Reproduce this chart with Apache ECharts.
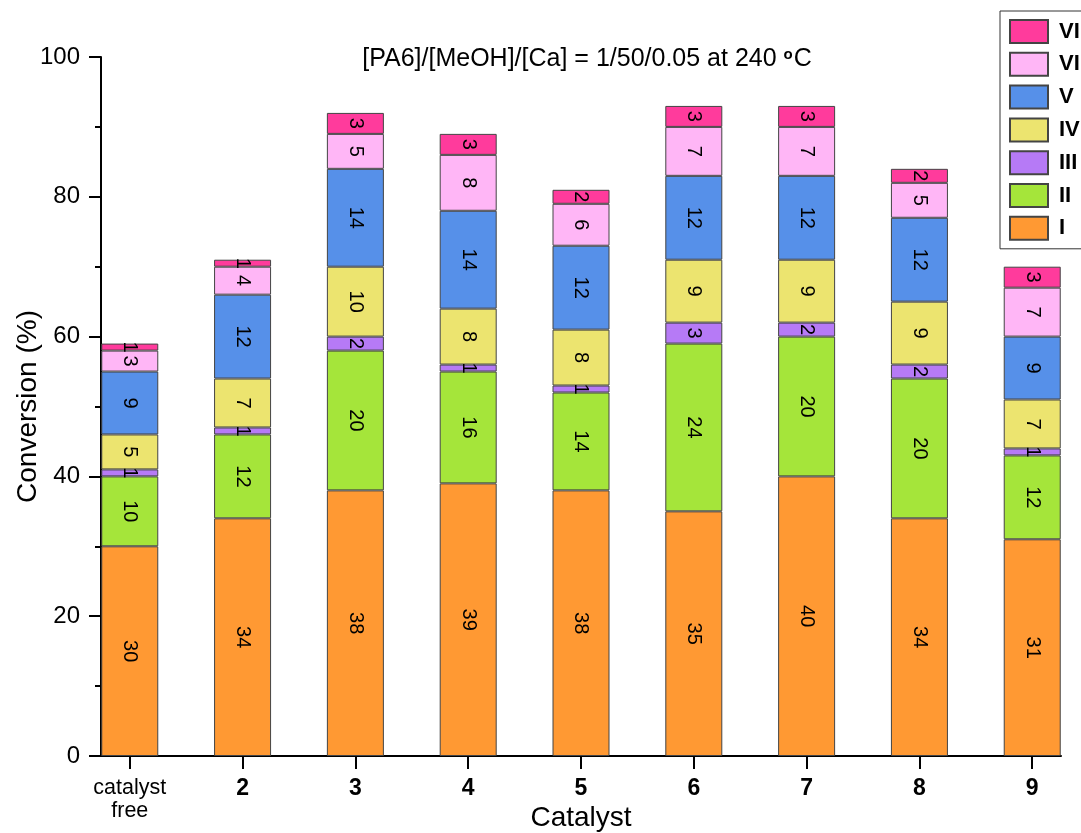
<!DOCTYPE html>
<html>
<head>
<meta charset="utf-8">
<script src="https://cdn.jsdelivr.net/npm/echarts@6/dist/echarts.min.js"></script>
<style>
html,body{margin:0;padding:0;background:#fff;}
#chart{width:1081px;height:833px;}
</style>
</head>
<body>
<div id="chart"></div>
<script>
// ---- data ----
const categories = ['catalyst\nfree', '2', '3', '4', '5', '6', '7', '8', '9'];
const seriesNames = ['I', 'II', 'III', 'IV', 'V', 'VI', 'VII'];
const valsI   = [30, 34, 38, 39, 38, 35, 40, 34, 31];
const valsII  = [10, 12, 20, 16, 14, 24, 20, 20, 12];
const valsIII = [1, 1, 2, 1, 1, 3, 2, 2, 1];
const valsIV  = [5, 7, 10, 8, 8, 9, 9, 9, 7];
const valsV   = [9, 12, 14, 14, 12, 12, 12, 12, 9];
const valsVI  = [3, 4, 5, 8, 6, 7, 7, 5, 7];
const valsVII = [1, 1, 3, 3, 2, 3, 3, 2, 3];
const yTicks = [0, 20, 40, 60, 80, 100];
const titleText = '[PA6]/[MeOH]/[Ca] = 1/50/0.05 at 240 ';

const allVals = [valsI, valsII, valsIII, valsIV, valsV, valsVI, valsVII];
const colors = ['#FF9933', '#A5E53A', '#B67AF6', '#ECE46F', '#5690E9', '#FFB6F6', '#FF3B9C'];
const positions = categories.map((c, i) => i + 1);

const FONT = '"Liberation Sans", Arial, sans-serif';

const series = allVals.map((arr, k) => ({
  name: seriesNames[k],
  type: 'bar',
  stack: 'total',
  barWidth: 57,
  // value first so that it is the stacked dimension; position second
  data: arr.map((v, i) => [v, positions[i]]),
  encode: { x: 1, y: 0 },
  itemStyle: { color: colors[k], borderColor: '#444', borderWidth: 1 },
  label: {
    show: true,
    position: 'inside',
    rotate: -90,
    fontSize: 20,
    fontFamily: FONT,
    color: '#000',
    formatter: p => String(p.value[0])
  },
  emphasis: { disabled: true }
}));

const chart = echarts.init(document.getElementById('chart'), null, { renderer: 'canvas' });
chart.setOption({
  animation: false,
  backgroundColor: '#fff',
  title: {
    text: '{a|' + titleText + '}{s|o}{a|C}',
    left: 582,
    top: 42,
    textAlign: 'center',
    textStyle: {
      rich: {
        a: { fontSize: 25, fontFamily: FONT, color: '#000', fontWeight: 'normal' },
        s: { fontSize: 15, fontFamily: FONT, color: '#000', verticalAlign: 'top', padding: [0, 1, 10, 0] }
      }
    }
  },
  legend: {
    orient: 'vertical',
    left: 1000,
    top: 11,
    padding: [8, 9, 8, 9],
    icon: 'rect',
    itemWidth: 38,
    itemHeight: 23,
    itemGap: 7.8,
    borderColor: '#333',
    borderWidth: 1,
    data: seriesNames.slice().reverse(),
    textStyle: { fontSize: 22, fontWeight: 'bold', fontFamily: FONT, color: '#000', padding: [0, 0, 0, 6] },
    selectedMode: false
  },
  grid: { left: 101, right: 20, top: 57, bottom: 77, containLabel: false, outerBoundsMode: 'none' },
  xAxis: {
    type: 'value',
    min: 0.745,
    max: 9.255,
    name: 'Catalyst',
    nameLocation: 'middle',
    nameGap: 48,
    nameMoveOverlap: false,
    nameTextStyle: { fontSize: 28, fontFamily: FONT, color: '#000' },
    axisLine: { show: true, lineStyle: { color: '#000', width: 2 } },
    axisTick: { show: true, customValues: positions, length: 13, lineStyle: { color: '#000', width: 2 } },
    axisLabel: {
      customValues: positions,
      margin: 21,
      formatter: v => {
        const c = categories[Math.round(v) - 1];
        return c.indexOf('\n') >= 0 ? '{n|' + c.replace('\n', '}\n{n|') + '}' : '{b|' + c + '}';
      },
      rich: {
        n: { fontSize: 21.5, fontFamily: FONT, color: '#000', lineHeight: 23 },
        b: { fontSize: 23, fontFamily: FONT, color: '#000', fontWeight: 'bold', lineHeight: 23 }
      }
    },
    splitLine: { show: false }
  },
  yAxis: {
    type: 'value',
    min: 0,
    max: 100,
    interval: 20,
    name: 'Conversion (%)',
    nameLocation: 'middle',
    nameGap: 59,
    nameMoveOverlap: false,
    nameTextStyle: { fontSize: 28, fontFamily: FONT, color: '#000' },
    axisLine: { show: true, lineStyle: { color: '#000', width: 2 } },
    axisTick: { show: true, length: 12, lineStyle: { color: '#000', width: 2 } },
    minorTick: { show: true, splitNumber: 2, length: 6, lineStyle: { color: '#000', width: 2 } },
    axisLabel: {
      margin: 21,
      fontSize: 24,
      fontFamily: FONT,
      color: '#000',
      formatter: v => (yTicks.indexOf(v) >= 0 ? String(v) : '')
    },
    splitLine: { show: false }
  },
  series: series
});
</script>
</body>
</html>
